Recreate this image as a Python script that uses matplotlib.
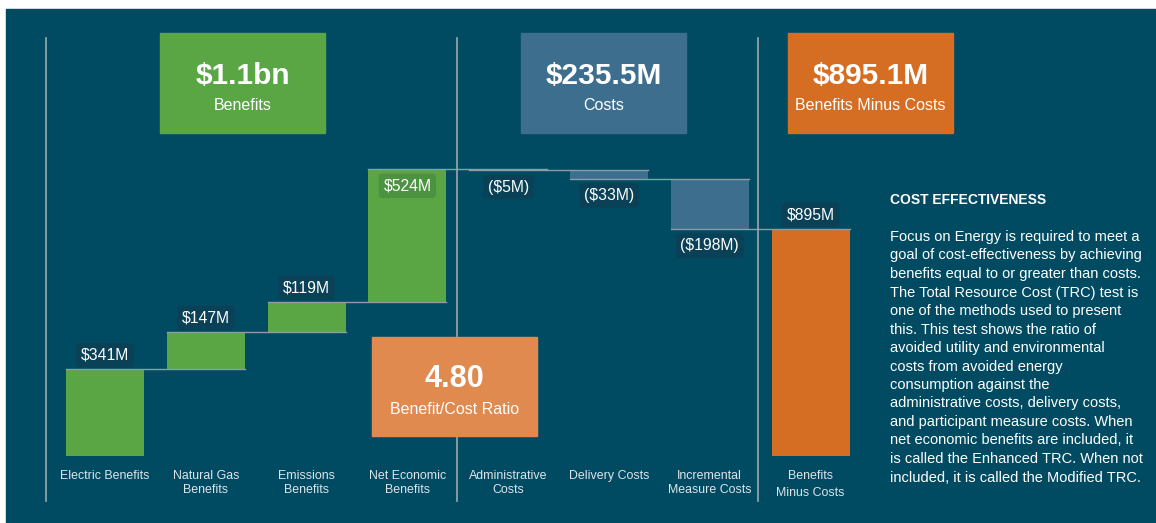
import matplotlib.pyplot as plt
from matplotlib.patches import Rectangle
from matplotlib.lines import Line2D

plt.rcParams['font.family'] = ['Liberation Sans', 'DejaVu Sans']

# data ($M)
categories = ["Electric Benefits", "Natural Gas\nBenefits", "Emissions\nBenefits",
              "Net Economic\nBenefits", "Administrative\nCosts", "Delivery Costs",
              "Incremental\nMeasure Costs", "Benefits\nMinus Costs"]
values = [341, 147, 119, 524, -5, -33, -198]

headline_values = ["$1.1bn", "$235.5M", "$895.1M"]
headline_names = ["Benefits", "Costs", "Benefits Minus Costs"]
ratio_value = "4.80"
ratio_name = "Benefit/Cost Ratio"

side_title = "COST EFFECTIVENESS"
side_lines = [
    "Focus on Energy is required to meet a",
    "goal of cost-effectiveness by achieving",
    "benefits equal to or greater than costs.",
    "The Total Resource Cost (TRC) test is",
    "one of the methods used to present",
    "this. This test shows the ratio of",
    "avoided utility and environmental",
    "costs from avoided energy",
    "consumption against the",
    "administrative costs, delivery costs,",
    "and participant measure costs. When",
    "net economic benefits are included, it",
    "is called the Enhanced TRC. When not",
    "included, it is called the Modified TRC.",
]

BG = "#014b62"
GREEN = "#5aa645"
BLUE = "#3e6e8e"
ORANGE = "#d56d23"
LIGHT_ORANGE = "#e08a4f"
LABEL_BG = "#0a4157"
LINE = "#8d9da6"
TXT = "#dde5ea"

W, H = 1156, 523
fig = plt.figure(figsize=(W / 100, H / 100), dpi=100)
fig.patch.set_facecolor("white")


def fx(x):
    return x / W


def fy(y):
    return 1 - y / H


fig.add_artist(Rectangle((fx(6), 0), 1 - fx(6), fy(9), transform=fig.transFigure,
                         color=BG, zorder=0))

# waterfall
ax = fig.add_axes([fx(46), fy(456), fx(814), 423 / H])
ax.set_facecolor("none")
ax.axis("off")

x = list(range(len(categories)))
bottoms, heights, colors = [], [], []
run = 0
for v in values:
    bottoms.append(run)
    heights.append(v)
    colors.append(GREEN if v > 0 else BLUE)
    run += v
bottoms.append(0)
heights.append(run)
colors.append(ORANGE)

bw = 0.775
ax.bar(x, heights, bottom=bottoms, width=bw, color=colors, zorder=2)
ax.set_xlim(-0.585, 7.49)
ax.set_ylim(0, 1667)

# connectors
level = 0
for i, v in enumerate(values):
    level += v
    ax.plot([x[i] - bw / 2, x[i + 1] + bw / 2], [level, level], color=LINE, lw=1, zorder=3)

# value labels
box = dict(boxstyle="round,pad=0.3,rounding_size=0.25", ec="none")
lab_kw = dict(ha="center", va="center", color="white", fontsize=11.3, zorder=5)
for i, v in enumerate(values):
    top = bottoms[i] + v
    if v > 0:
        txt = f"${v}M"
        if i == 3:
            ax.text(x[i], top - 66, txt, bbox=dict(box, fc="#4c9341"), **lab_kw)
        else:
            ax.text(x[i], top + 56, txt, bbox=dict(box, fc=LABEL_BG), **lab_kw)
    else:
        txt = f"(${-v}M)"
        ax.text(x[i], top - 66, txt, bbox=dict(box, fc=LABEL_BG), **lab_kw)
ax.text(x[7], run + 56, f"${run}M", bbox=dict(box, fc=LABEL_BG), **lab_kw)

# category labels
for i, c in enumerate(categories):
    ax.text(x[i], -55, c, ha="center", va="top", color=TXT, fontsize=8.9,
            linespacing=1.25 if i < 7 else 1.55, clip_on=False)

# dividers
for xp in (46, 457, 758):
    fig.add_artist(Line2D([fx(xp), fx(xp)], [fy(38), fy(501)], transform=fig.transFigure,
                          color="#9aa8b0", lw=1.2, zorder=1))

# headline boxes
boxes = [(160, GREEN), (521, BLUE), (788, ORANGE)]
for (bx, col), val, name in zip(boxes, headline_values, headline_names):
    fig.add_artist(Rectangle((fx(bx), fy(133)), fx(165), 100 / H, transform=fig.transFigure,
                             color=col, zorder=4))
    fig.text(fx(bx + 82.5), fy(76), val, ha="center", va="center", color="white",
             fontsize=21.5, fontweight="bold", zorder=6)
    fig.text(fx(bx + 82.5), fy(106), name, ha="center", va="center", color="white",
             fontsize=11.5, zorder=6)

fig.add_artist(Rectangle((fx(372), fy(436)), fx(165), 99 / H, transform=fig.transFigure,
                         color=LIGHT_ORANGE, zorder=4))
fig.text(fx(454.5), fy(379), ratio_value, ha="center", va="center", color="white",
         fontsize=22, fontweight="bold", zorder=6)
fig.text(fx(454.5), fy(410), ratio_name, ha="center", va="center", color="white",
         fontsize=11.5, zorder=6)

# side text
fig.text(fx(890), fy(200), side_title, ha="left", va="center", color="white",
         fontsize=10, fontweight="bold")
for k, line in enumerate(side_lines):
    fig.text(fx(890), fy(237 + k * 18.5), line, ha="left", va="center", color="white",
             fontsize=10.5)

fig.savefig("out.png", dpi=100, facecolor=fig.get_facecolor())
